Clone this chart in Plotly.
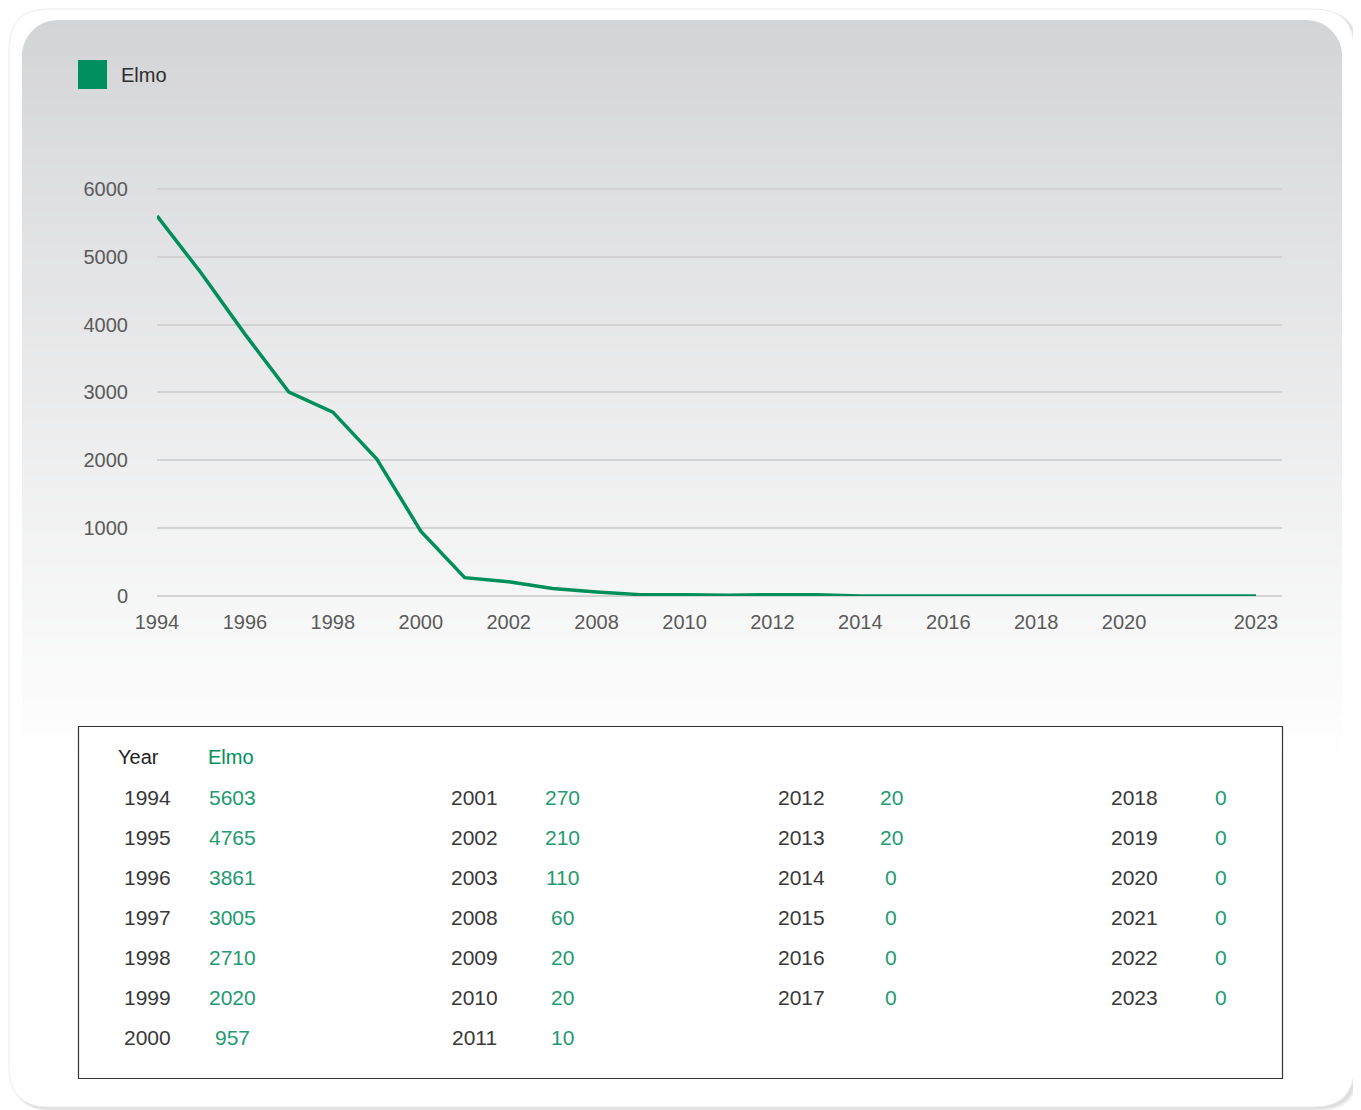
import plotly.graph_objects as go

# data
years = ['1994', '1995', '1996', '1997', '1998', '1999', '2000', '2001', '2002', '2003',
         '2008', '2009', '2010', '2011', '2012', '2013', '2014', '2015', '2016', '2017',
         '2018', '2019', '2020', '2021', '2022', '2023']
elmo = [5603, 4765, 3861, 3005, 2710, 2020, 957, 270, 210, 110,
        60, 20, 20, 10, 20, 20, 0, 0, 0, 0,
        0, 0, 0, 0, 0, 0]
x_ticks = ['1994', '1996', '1998', '2000', '2002', '2008', '2010', '2012',
           '2014', '2016', '2018', '2020', '2023']
y_ticks = [0, 1000, 2000, 3000, 4000, 5000, 6000]
table_columns = [7, 7, 6, 6]  # rows per column of the table

# page has an 8px body margin, so the figure is a bit smaller than the window
OFF = 8
W, H = 1361 - OFF, 1110 - OFF
GREEN = '#008f5b'
VALUE_GREEN = '#229b6e'
FONT = 'Liberation Sans'


def px(x):
    return (x - OFF) / W


def py(y):
    return 1 - (y - OFF) / H


def rounded_rect(x0, y0, x1, y1, r):
    return (f'M {px(x0 + r)} {py(y0)} L {px(x1 - r)} {py(y0)} '
            f'Q {px(x1)} {py(y0)} {px(x1)} {py(y0 + r)} L {px(x1)} {py(y1 - r)} '
            f'Q {px(x1)} {py(y1)} {px(x1 - r)} {py(y1)} L {px(x0 + r)} {py(y1)} '
            f'Q {px(x0)} {py(y1)} {px(x0)} {py(y1 - r)} L {px(x0)} {py(y0 + r)} '
            f'Q {px(x0)} {py(y0)} {px(x0 + r)} {py(y0)} Z')


fig = go.Figure()

fig.add_trace(go.Scatter(
    x=years, y=elmo, mode='lines', name='Elmo',
    line=dict(color=GREEN, width=3.5),
    showlegend=False,
))

shapes = []

# soft shadow + outer white card
for i, col in enumerate(['#f3f3f3', '#e9e9e9', '#dedede']):
    d = 3 - i
    shapes.append(dict(type='path', xref='paper', yref='paper', layer='below',
                       path=rounded_rect(9 + d, 9 + d, 1355 + d + 1, 1108 + d, 40),
                       fillcolor=col, line=dict(width=0)))
shapes.append(dict(type='path', xref='paper', yref='paper', layer='below',
                   path=rounded_rect(9, 9, 1354, 1107, 40),
                   fillcolor='white', line=dict(color='#ededed', width=1)))

# grey gradient panel, drawn as thin strips
top, bottom = 20, 760
left, right = 22, 1342
c_top = (211, 212, 214)
c_bot = (255, 255, 255)
step = 6
rr = 36


def inset(y):
    d = max(0.0, top + rr - y)
    return rr - (rr ** 2 - d ** 2) ** 0.5


for yy in range(top, bottom, step):
    t = min(1.0, ((yy - top) / (bottom - top)) ** 0.9)
    c = tuple(round(a + (b - a) * t) for a, b in zip(c_top, c_bot))
    col = f'rgb{c}'
    yb = yy + step + 1
    if yy < top + rr:
        # rounded top corners, built from finer slices
        pts_l, pts_r = [], []
        for k in range(0, step + 2):
            y = yy + k
            pts_r.append((px(right - inset(y)), py(y)))
            pts_l.append((px(left + inset(y)), py(y)))
        path = f'M {pts_l[0][0]} {pts_l[0][1]} '
        for p in pts_r:
            path += f'L {p[0]} {p[1]} '
        for p in reversed(pts_l):
            path += f'L {p[0]} {p[1]} '
        path += 'Z'
        shapes.append(dict(type='path', xref='paper', yref='paper', layer='below',
                           path=path, fillcolor=col, line=dict(width=0)))
    else:
        shapes.append(dict(type='rect', xref='paper', yref='paper', layer='below',
                           x0=px(left), x1=px(right), y0=py(yy), y1=py(yb),
                           fillcolor=col, line=dict(width=0)))

# legend square
shapes.append(dict(type='rect', xref='paper', yref='paper',
                   x0=px(78), x1=px(107), y0=py(89), y1=py(60),
                   fillcolor='#009060', line=dict(width=0)))

# table box
shapes.append(dict(type='rect', xref='paper', yref='paper',
                   x0=px(78.5), x1=px(1282.5), y0=py(1078.5), y1=py(726.5),
                   fillcolor='white', line=dict(color='#333333', width=1.2)))

annotations = [
    dict(text='Elmo', x=px(119), y=py(75), xanchor='left', yanchor='middle',
         font=dict(size=20, color='#2e2e2e', family=FONT)),
    dict(text='Year', x=px(138), y=py(757), xanchor='center', yanchor='middle',
         font=dict(size=20, color='#222222', family=FONT)),
    dict(text='Elmo', x=px(231), y=py(757), xanchor='center', yanchor='middle',
         font=dict(size=20, color=GREEN, family=FONT)),
]

year_cx = [147, 474, 801, 1134]
val_cx = [232, 562, 891, 1221]
idx = 0
for c, n in enumerate(table_columns):
    for row in range(n):
        yy = 797 + 40 * row
        annotations.append(dict(text=years[idx], x=px(year_cx[c]), y=py(yy),
                                xanchor='center', yanchor='middle',
                                font=dict(size=21, color='#383838', family=FONT)))
        annotations.append(dict(text=str(elmo[idx]), x=px(val_cx[c]), y=py(yy),
                                xanchor='center', yanchor='middle',
                                font=dict(size=21, color=VALUE_GREEN, family=FONT)))
        idx += 1

for a in annotations:
    a['showarrow'] = False
    a['xref'] = 'paper'
    a['yref'] = 'paper'

n = len(years)
spacing = (1256 - 157) / (n - 1)
x_end = (1282 - 157) / spacing
y_top = 6100
y_top_px = 596 - y_top * (596 - 189) / 6000

fig.update_layout(
    width=W, height=H,
    margin=dict(l=0, r=0, t=0, b=0, autoexpand=False),
    paper_bgcolor='white',
    plot_bgcolor='rgba(0,0,0,0)',
    font=dict(family=FONT, color='#5a5a5a', size=20),
    shapes=shapes,
    annotations=annotations,
    showlegend=False,
    xaxis=dict(
        type='category', domain=[px(157), px(1282)], range=[0, x_end],
        tickmode='array', tickvals=x_ticks, ticktext=x_ticks,
        showgrid=False, zeroline=False, showline=False, ticks='',
        automargin=False,
        tickfont=dict(size=20, color='#5a5a5a'), ticklabelstandoff=12,
    ),
    yaxis=dict(
        domain=[py(596), py(y_top_px)], range=[0, y_top],
        tickmode='array', tickvals=y_ticks,
        showgrid=True, gridcolor='#d3d3d3', gridwidth=2,
        zeroline=True, zerolinecolor='#d3d3d3', zerolinewidth=2,
        showline=False, ticks='', automargin=False,
        tickfont=dict(size=20, color='#5a5a5a'), ticklabelstandoff=28,
    ),
)

fig.write_html("out.html")
